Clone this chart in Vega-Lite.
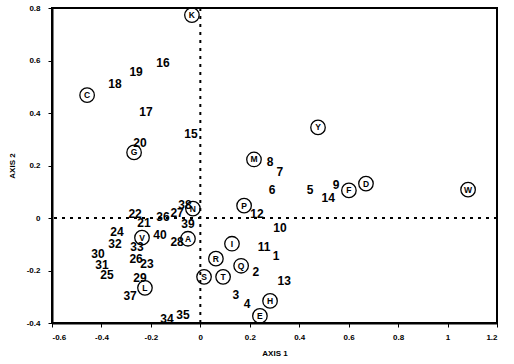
{
  "$schema": "https://vega.github.io/schema/vega-lite/v6.json",
  "width": 445,
  "height": 315,
  "autosize": {"type": "none"},
  "padding": {"left": 52, "top": 8, "right": 17, "bottom": 41},
  "background": "white",
  "config": {
    "view": {"stroke": "black", "strokeWidth": 2},
    "font": "Liberation Sans",
    "axis": {
      "grid": false,
      "domainColor": "black",
      "domainWidth": 2,
      "tickColor": "black",
      "tickWidth": 1,
      "tickSize": 4,
      "labelFont": "Liberation Sans",
      "labelFontWeight": "bold",
      "labelFontSize": 8,
      "labelColor": "black",
      "titleFont": "Liberation Sans",
      "titleFontWeight": "bold",
      "titleFontSize": 8,
      "titleColor": "black"
    }
  },
  "datasets": {
    "pts": [
      {"label": "K", "kind": "letter", "x": -0.034, "y": 0.773},
      {"label": "16", "kind": "num", "x": -0.151, "y": 0.59},
      {"label": "19", "kind": "num", "x": -0.26, "y": 0.555},
      {"label": "18", "kind": "num", "x": -0.345, "y": 0.51},
      {"label": "C", "kind": "letter", "x": -0.458, "y": 0.468},
      {"label": "17", "kind": "num", "x": -0.22, "y": 0.403},
      {"label": "15", "kind": "num", "x": -0.038, "y": 0.319},
      {"label": "20", "kind": "num", "x": -0.244, "y": 0.284},
      {"label": "G", "kind": "letter", "x": -0.268, "y": 0.25},
      {"label": "M", "kind": "letter", "x": 0.217, "y": 0.223},
      {"label": "8", "kind": "num", "x": 0.282, "y": 0.215},
      {"label": "7", "kind": "num", "x": 0.322, "y": 0.177},
      {"label": "Y", "kind": "letter", "x": 0.476, "y": 0.345},
      {"label": "6", "kind": "num", "x": 0.29, "y": 0.105},
      {"label": "5", "kind": "num", "x": 0.444, "y": 0.105},
      {"label": "14", "kind": "num", "x": 0.517, "y": 0.078},
      {"label": "9", "kind": "num", "x": 0.549, "y": 0.127},
      {"label": "F", "kind": "letter", "x": 0.601, "y": 0.105},
      {"label": "D", "kind": "letter", "x": 0.67, "y": 0.131},
      {"label": "W", "kind": "letter", "x": 1.083, "y": 0.108},
      {"label": "P", "kind": "letter", "x": 0.177, "y": 0.047},
      {"label": "12", "kind": "num", "x": 0.229, "y": 0.017},
      {"label": "10", "kind": "num", "x": 0.322, "y": -0.037},
      {"label": "11", "kind": "num", "x": 0.258, "y": -0.109},
      {"label": "1", "kind": "num", "x": 0.306, "y": -0.144},
      {"label": "I", "kind": "letter", "x": 0.128, "y": -0.098},
      {"label": "R", "kind": "letter", "x": 0.063, "y": -0.155},
      {"label": "Q", "kind": "letter", "x": 0.165, "y": -0.182},
      {"label": "2", "kind": "num", "x": 0.225, "y": -0.205},
      {"label": "T", "kind": "letter", "x": 0.092, "y": -0.224},
      {"label": "S", "kind": "letter", "x": 0.015, "y": -0.224},
      {"label": "13", "kind": "num", "x": 0.339, "y": -0.239},
      {"label": "3", "kind": "num", "x": 0.144, "y": -0.293},
      {"label": "4", "kind": "num", "x": 0.189, "y": -0.327},
      {"label": "H", "kind": "letter", "x": 0.282, "y": -0.316},
      {"label": "E", "kind": "letter", "x": 0.241, "y": -0.373},
      {"label": "34", "kind": "num", "x": -0.135, "y": -0.385},
      {"label": "35", "kind": "num", "x": -0.07, "y": -0.369},
      {"label": "37", "kind": "num", "x": -0.284, "y": -0.297},
      {"label": "L", "kind": "letter", "x": -0.224, "y": -0.266},
      {"label": "29", "kind": "num", "x": -0.244, "y": -0.228},
      {"label": "25", "kind": "num", "x": -0.378, "y": -0.216},
      {"label": "31", "kind": "num", "x": -0.398, "y": -0.178},
      {"label": "30", "kind": "num", "x": -0.414, "y": -0.136},
      {"label": "26", "kind": "num", "x": -0.26, "y": -0.155},
      {"label": "23", "kind": "num", "x": -0.216, "y": -0.174},
      {"label": "32", "kind": "num", "x": -0.345, "y": -0.098},
      {"label": "33", "kind": "num", "x": -0.256, "y": -0.11},
      {"label": "V", "kind": "letter", "x": -0.236, "y": -0.075},
      {"label": "24", "kind": "num", "x": -0.337, "y": -0.052},
      {"label": "40", "kind": "num", "x": -0.163, "y": -0.064},
      {"label": "28", "kind": "num", "x": -0.094, "y": -0.09},
      {"label": "A", "kind": "letter", "x": -0.05, "y": -0.079},
      {"label": "39", "kind": "num", "x": -0.05, "y": -0.022},
      {"label": "22", "kind": "num", "x": -0.264, "y": 0.017},
      {"label": "21", "kind": "num", "x": -0.228, "y": -0.018},
      {"label": "36", "kind": "num", "x": -0.151, "y": 0.003},
      {"label": "27", "kind": "num", "x": -0.094, "y": 0.019},
      {"label": "38", "kind": "num", "x": -0.062, "y": 0.051},
      {"label": "N", "kind": "letter", "x": -0.03, "y": 0.036}
    ],
    "vline": [{"x": 0}],
    "hline": [{"y": 0}]
  },
  "encoding": {
    "x": {
      "field": "x", "type": "quantitative",
      "scale": {"domain": [-0.6, 1.2], "nice": false, "zero": false},
      "axis": {
        "title": "AXIS 1",
        "values": [-0.6, -0.4, -0.2, 0, 0.2, 0.4, 0.6, 0.8, 1, 1.2],
        "labelExpr": "datum.value == 0 ? '0' : toString(round(datum.value * 10) / 10)",
        "labelPadding": 6,
        "titlePadding": 8
      }
    },
    "y": {
      "field": "y", "type": "quantitative",
      "scale": {"domain": [-0.4, 0.8], "nice": false, "zero": false},
      "axis": {
        "title": "AXIS 2",
        "values": [-0.4, -0.2, 0, 0.2, 0.4, 0.6, 0.8],
        "labelExpr": "datum.value == 0 ? '0' : toString(round(datum.value * 10) / 10)",
        "labelPadding": 8,
        "titlePadding": 10
      }
    }
  },
  "layer": [
    {
      "data": {"name": "vline"},
      "mark": {"type": "rule", "color": "black", "strokeWidth": 2, "strokeDash": [3, 5]},
      "encoding": {"x": {"field": "x", "type": "quantitative"}, "y": null}
    },
    {
      "data": {"name": "hline"},
      "mark": {"type": "rule", "color": "black", "strokeWidth": 2, "strokeDash": [3, 5]},
      "encoding": {"y": {"field": "y", "type": "quantitative"}, "x": null}
    },
    {
      "data": {"name": "pts"},
      "transform": [{"filter": "datum.kind == 'letter'"}],
      "mark": {"type": "point", "shape": "circle", "filled": false, "stroke": "black", "strokeWidth": 1.3, "size": 210, "opacity": 1}
    },
    {
      "data": {"name": "pts"},
      "transform": [{"filter": "datum.kind == 'letter'"}],
      "mark": {"type": "text", "font": "Liberation Sans", "fontWeight": "bold", "fontSize": 8.5, "color": "black", "align": "center", "baseline": "middle"},
      "encoding": {"text": {"field": "label"}}
    },
    {
      "data": {"name": "pts"},
      "transform": [{"filter": "datum.kind == 'num'"}],
      "mark": {"type": "text", "font": "Liberation Sans", "fontWeight": "bold", "fontSize": 12, "color": "black", "align": "center", "baseline": "middle"},
      "encoding": {"text": {"field": "label"}}
    }
  ]
}
